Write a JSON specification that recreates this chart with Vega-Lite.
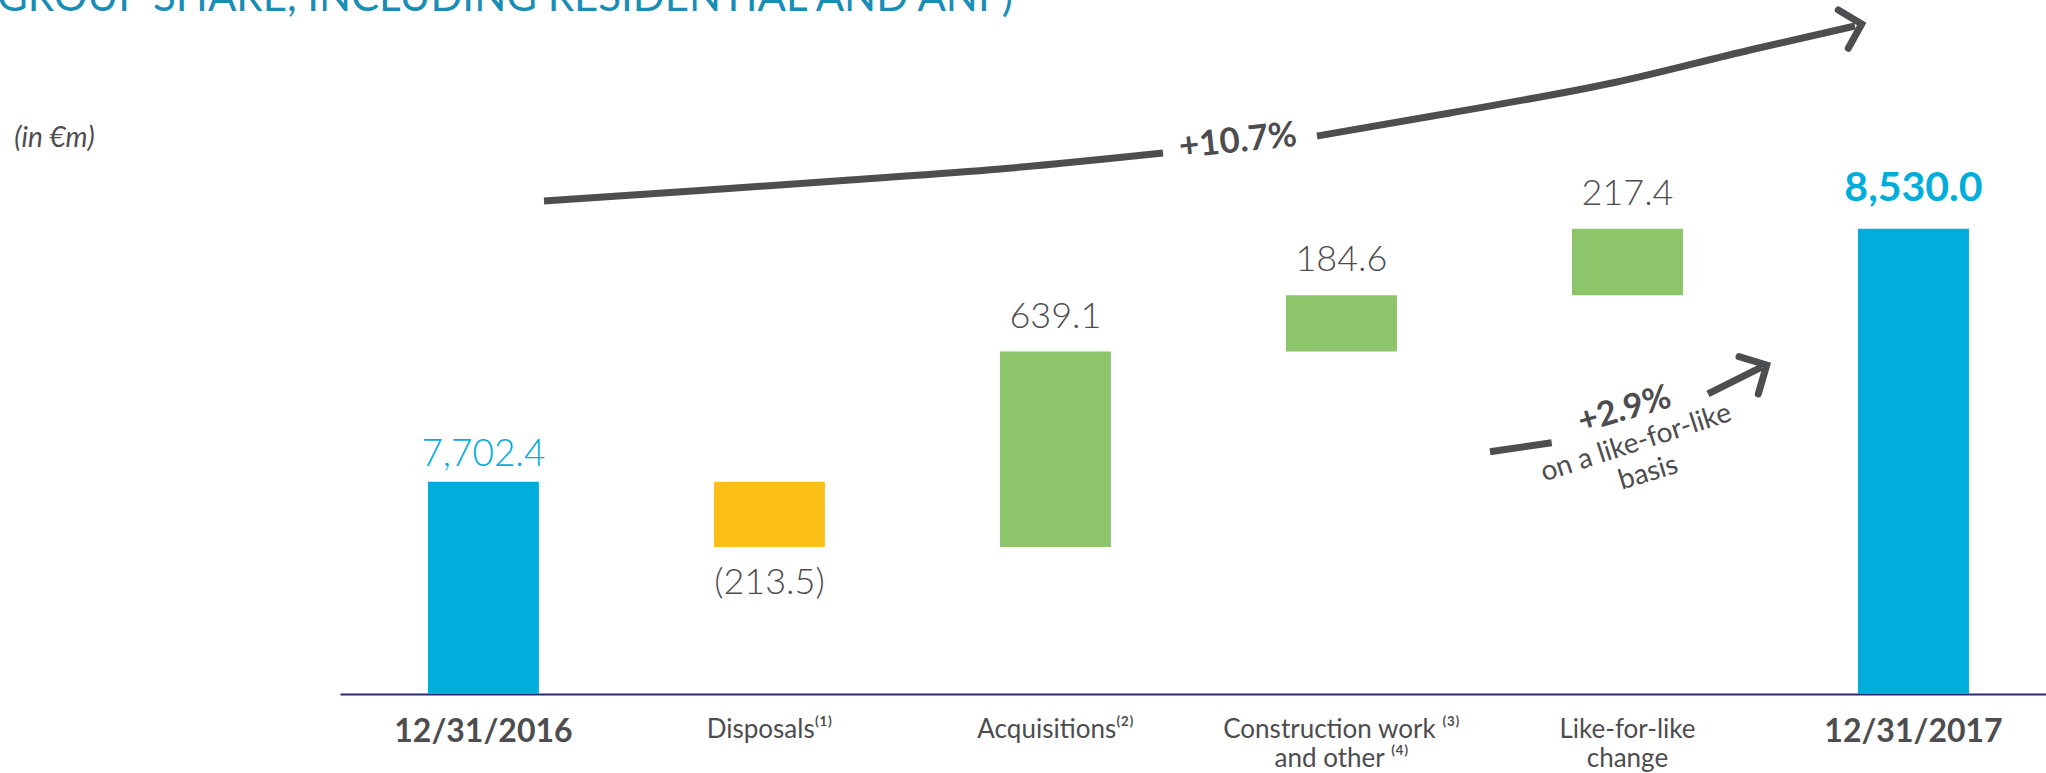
{
"$schema":"https://vega.github.io/schema/vega-lite/v6.json",
"width":1706,"height":694,
"autosize":{"type":"none"},
"padding":{"left":340,"top":0,"right":0,"bottom":79},
"background":"white",
"config":{"view":{"stroke":null},"font":"Lato"},
"datasets":{
"steps":[
{"step":"12/31/2016","kind":"total","start":0,"end":7702.4,"value":7702.4},
{"step":"Disposals","kind":"decrease","start":7702.4,"end":7488.9,"value":-213.5},
{"step":"Acquisitions","kind":"increase","start":7488.9,"end":8128.0,"value":639.1},
{"step":"Construction work and other","kind":"increase","start":8128.0,"end":8312.6,"value":184.6},
{"step":"Like-for-like change","kind":"increase","start":8312.6,"end":8530.0,"value":217.4},
{"step":"12/31/2017","kind":"total","start":0,"end":8530.0,"value":8530.0}
],
"arrows":[
{"seg":"bigA","kind":"shaft","order":1,"pos":0.2115,"val":8620.7},
{"seg":"bigA","kind":"shaft","order":2,"pos":0.757,"val":8655.0},
{"seg":"bigA","kind":"shaft","order":3,"pos":1.2815,"val":8689.4},
{"seg":"bigA","kind":"shaft","order":4,"pos":1.8059,"val":8725.4},
{"seg":"bigA","kind":"shaft","order":5,"pos":2.3759,"val":8777.7},
{"seg":"bigB","kind":"shaft","order":1,"pos":2.9143,"val":8833.3},
{"seg":"bigB","kind":"shaft","order":2,"pos":3.3794,"val":8908.6},
{"seg":"bigB","kind":"shaft","order":3,"pos":3.9633,"val":9010.0},
{"seg":"bigB","kind":"shaft","order":4,"pos":4.4283,"val":9114.7},
{"seg":"bigB","kind":"shaft","order":5,"pos":4.7955,"val":9193.2},
{"seg":"smallA","kind":"shaft","order":1,"pos":3.5192,"val":7800.6},
{"seg":"smallA","kind":"shaft","order":2,"pos":3.735,"val":7830.1},
{"seg":"smallB","kind":"shaft","order":1,"pos":4.2815,"val":7989.4},
{"seg":"smallB","kind":"shaft","order":2,"pos":4.4703,"val":8077.7},
{"seg":"bigHead","kind":"head","order":1,"pos":4.737,"val":9245.5},
{"seg":"bigHead","kind":"head","order":2,"pos":4.8189,"val":9199.7},
{"seg":"bigHead","kind":"head","order":3,"pos":4.772,"val":9120.2},
{"seg":"smallHead","kind":"head","order":1,"pos":4.3899,"val":8111.4},
{"seg":"smallHead","kind":"head","order":2,"pos":4.4867,"val":8084.2},
{"seg":"smallHead","kind":"head","order":3,"pos":4.4573,"val":7989.4}
],
"notes":[
{"id":"heading","pos":-1.701,"val":9278.2,"text":"GROUP SHARE, INCLUDING RESIDENTIAL AND ANF)"},
{"id":"unit","pos":-1.5,"val":8823.5,"text":"(in €m)"},
{"id":"total","pos":2.638,"val":8817,"text":"+10.7%"},
{"id":"lfl","pos":3.99,"val":7937,"text":"+2.9%"},
{"id":"lfl2","pos":4.03,"val":7828.1,"text":"on a like-for-like"},
{"id":"lfl3","pos":4.0727,"val":7730,"text":"basis"}
]
},
"layer":[
{
"data":{"name":"steps"},
"encoding":{
"x":{"field":"step","type":"nominal","sort":null,"title":null,
"scale":{"type":"band","domain":["12/31/2016","Disposals","Acquisitions","Construction work and other","Like-for-like change","12/31/2017"],"paddingInner":0.612,"paddingOuter":0.2884,"align":0.533},
"axis":{"domainColor":"#2B2A6C","domainWidth":2,"ticks":false,"tickSize":0,"grid":false,"labelAngle":0,"labelFont":"Lato","labelColor":"#4D4D4F","labelBaseline":"top","labelPadding":22,"labelLineHeight":29,"labelLimit":500,
"labelFontSize":{"condition":{"test":"indexof(datum.value,'12/31')==0","value":32},"value":26},
"labelFontWeight":{"condition":{"test":"indexof(datum.value,'12/31')==0","value":"bold"},"value":"normal"},
"labelExpr":"datum.value == 'Disposals' ? 'Disposals⁽¹⁾' : datum.value == 'Acquisitions' ? 'Acquisitions⁽²⁾' : datum.value == 'Construction work and other' ? ['Construction work ⁽³⁾', 'and other ⁽⁴⁾'] : datum.value == 'Like-for-like change' ? ['Like-for-like', 'change'] : datum.label"}}
},
"layer":[
{"mark":{"type":"bar"},
"encoding":{
"y":{"field":"end","type":"quantitative","scale":{"domain":[7008,9278.2],"zero":false,"nice":false,"clamp":true},"axis":null},
"y2":{"field":"start"},
"color":{"field":"kind","type":"nominal","scale":{"domain":["total","decrease","increase"],"range":["#00ADDB","#FCBF17","#8DC56B"]},"legend":null}}},
{"transform":[{"filter":"datum.step == '12/31/2016'"}],
"mark":{"type":"text","font":"Lato","fontSize":37,"fontWeight":300,"color":"#00ADDB","baseline":"alphabetic","align":"center","dy":-16},
"encoding":{"y":{"field":"end","type":"quantitative","scale":{"domain":[7008,9278.2],"zero":false,"nice":false,"clamp":true},"axis":null},"text":{"field":"value","type":"quantitative","format":"(,.1f"}}},
{"transform":[{"filter":"datum.step == '12/31/2017'"}],
"mark":{"type":"text","font":"Lato","fontSize":41,"fontWeight":"bold","color":"#00ADDB","baseline":"alphabetic","align":"center","dy":-28},
"encoding":{"y":{"field":"end","type":"quantitative","scale":{"domain":[7008,9278.2],"zero":false,"nice":false,"clamp":true},"axis":null},"text":{"field":"value","type":"quantitative","format":"(,.1f"}}},
{"transform":[{"filter":"datum.kind == 'increase'"}],
"mark":{"type":"text","font":"Lato","fontSize":36,"fontWeight":300,"color":"#4D4D4F","baseline":"alphabetic","align":"center","dy":-24},
"encoding":{"y":{"field":"end","type":"quantitative","scale":{"domain":[7008,9278.2],"zero":false,"nice":false,"clamp":true},"axis":null},"text":{"field":"value","type":"quantitative","format":"(,.1f"}}},
{"transform":[{"filter":"datum.kind == 'decrease'"}],
"mark":{"type":"text","font":"Lato","fontSize":36,"fontWeight":300,"color":"#4D4D4F","baseline":"alphabetic","align":"center","dy":47},
"encoding":{"y":{"field":"end","type":"quantitative","scale":{"domain":[7008,9278.2],"zero":false,"nice":false,"clamp":true},"axis":null},"text":{"field":"value","type":"quantitative","format":"(,.1f"}}}
]
},
{
"encoding":{
"x":{"field":"pos","type":"quantitative","scale":{"domain":[-0.50175,5.46329],"zero":false,"nice":false},"axis":null},
"y":{"field":"val","type":"quantitative","scale":{"domain":[7008,9278.2],"zero":false,"nice":false,"clamp":true},"axis":null}
},
"layer":[
{"data":{"name":"arrows"},"transform":[{"filter":"datum.kind == 'shaft'"}],
"mark":{"type":"line","color":"#4D4E50","strokeWidth":7,"strokeCap":"butt","interpolate":"monotone"},
"encoding":{"detail":{"field":"seg","type":"nominal"},"order":{"field":"order","type":"quantitative"}}},
{"data":{"name":"arrows"},"transform":[{"filter":"datum.kind == 'head'"}],
"mark":{"type":"line","color":"#4D4E50","strokeWidth":7,"strokeCap":"round","strokeJoin":"miter"},
"encoding":{"detail":{"field":"seg","type":"nominal"},"order":{"field":"order","type":"quantitative"}}},
{"data":{"name":"notes"},"transform":[{"filter":"datum.id == 'heading'"}],
"mark":{"type":"text","font":"Lato","fontSize":42,"color":"#1A8DB5","align":"left","baseline":"alphabetic","dy":11},
"encoding":{"text":{"field":"text"}}},
{"data":{"name":"notes"},"transform":[{"filter":"datum.id == 'unit'"}],
"mark":{"type":"text","font":"Lato","fontSize":28,"fontStyle":"italic","color":"#4D4D4F","align":"center","baseline":"middle"},
"encoding":{"text":{"field":"text"}}},
{"data":{"name":"notes"},"transform":[{"filter":"datum.id == 'total'"}],
"mark":{"type":"text","font":"Lato","fontSize":35,"fontWeight":"bold","color":"#4D4D4F","align":"center","baseline":"middle","angle":-6},
"encoding":{"text":{"field":"text"}}},
{"data":{"name":"notes"},"transform":[{"filter":"datum.id == 'lfl'"}],
"mark":{"type":"text","font":"Lato","fontSize":34,"fontWeight":"bold","color":"#4D4D4F","align":"center","baseline":"middle","angle":-16},
"encoding":{"text":{"field":"text"}}},
{"data":{"name":"notes"},"transform":[{"filter":"datum.id == 'lfl2'"}],
"mark":{"type":"text","font":"Lato","fontSize":28,"color":"#4D4D4F","align":"center","baseline":"middle","angle":-18},
"encoding":{"text":{"field":"text"}}},
{"data":{"name":"notes"},"transform":[{"filter":"datum.id == 'lfl3'"}],
"mark":{"type":"text","font":"Lato","fontSize":28,"color":"#4D4D4F","align":"center","baseline":"middle","angle":-17},
"encoding":{"text":{"field":"text"}}}
]
}
],
"resolve":{"scale":{"x":"independent"}}
}
